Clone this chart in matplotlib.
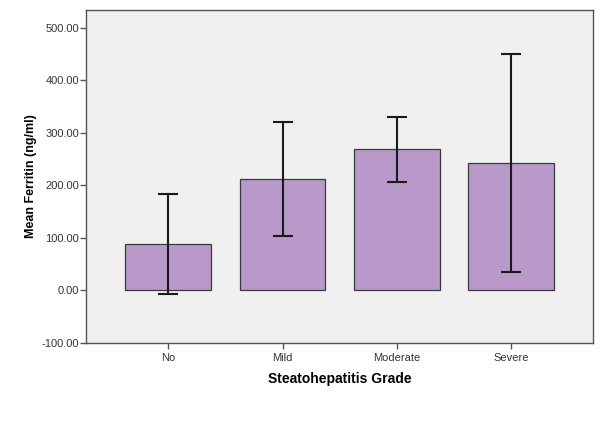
import numpy as np
import matplotlib
matplotlib.use('Agg')
import matplotlib.pyplot as plt

plt.rcParams['font.family'] = ['Liberation Sans', 'DejaVu Sans']

grades = ['No', 'Mild', 'Moderate', 'Severe']
mean_ferritin = [89, 213, 269, 242]
err_upper = [184, 321, 331, 450]
err_lower = [-6, 104, 207, 35]

fig = plt.figure(figsize=(6.06, 4.33), dpi=100)
ax = fig.add_axes([0.142, 0.208, 0.837, 0.769])
ax.set_facecolor('#f0f0f0')

x = np.arange(len(grades))
means = np.array(mean_ferritin)
yerr = [means - np.array(err_lower), np.array(err_upper) - means]

ax.bar(x, means, width=0.75, color='#b899c9', edgecolor='#3a3a3a', linewidth=0.9, zorder=2)
ax.errorbar(x, means, yerr=yerr, fmt='none', ecolor='#1a1a1a',
            elinewidth=1.5, capsize=7, capthick=1.5, zorder=3)

ax.set_xlim(-0.72, 3.72)
ax.set_ylim(-100, 534)
ax.set_yticks([-100, 0, 100, 200, 300, 400, 500])
ax.set_yticklabels(['%.2f' % v for v in [-100, 0, 100, 200, 300, 400, 500]])
ax.set_xticks(x)
ax.set_xticklabels(grades)

for s in ax.spines.values():
    s.set_color('#555555')
    s.set_linewidth(1.0)
ax.tick_params(axis='both', labelsize=8, colors='#555555', labelcolor='#333333',
               length=4, width=1.0, pad=1)
ax.tick_params(axis='x', pad=3)

ax.set_ylabel('Mean Ferritin (ng/ml)', fontsize=9, fontweight='bold', labelpad=3)
ax.set_xlabel('Steatohepatitis Grade', fontsize=10, fontweight='bold', labelpad=7)

fig.savefig('out.png', dpi=100)
